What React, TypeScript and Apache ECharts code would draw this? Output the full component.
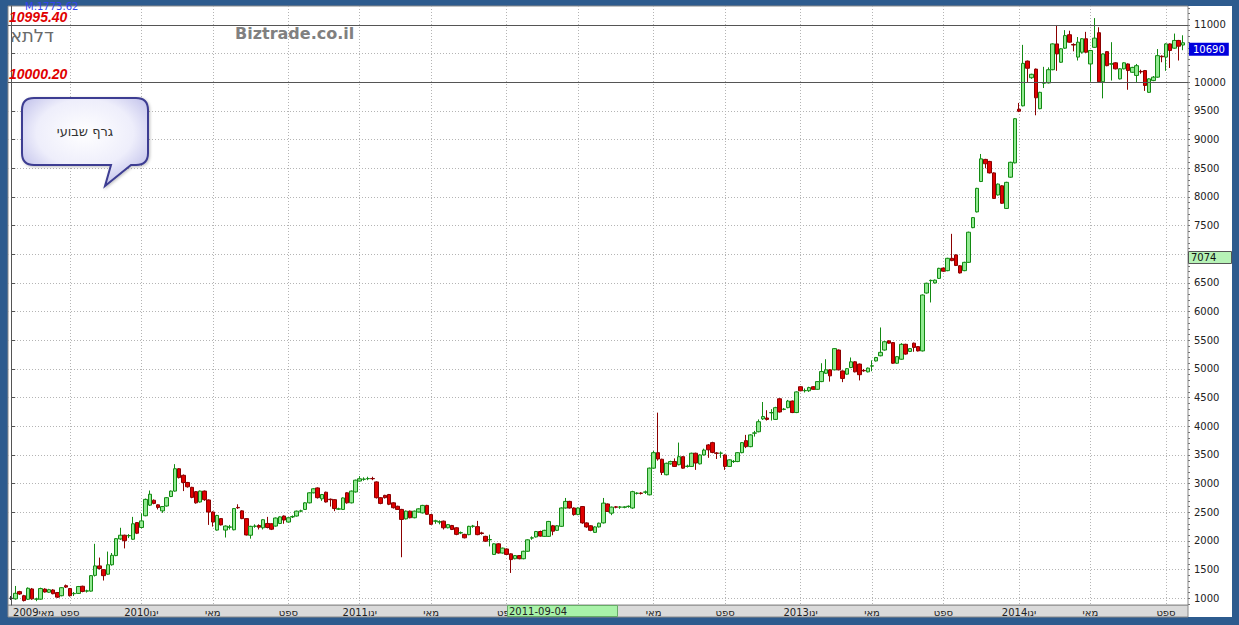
import React, { useEffect, useRef } from "react";
import * as echarts from "echarts";

// Weekly candles [open, close, low, high], first week 2009-05-31
const weeklyOHLC: number[][] = [
  [1000, 1000, 970, 1040], [990, 1087, 975, 1215], [1116, 1075, 1060, 1130], [1045, 960, 945, 1060],
  [983, 1175, 970, 1190], [1163, 990, 975, 1180], [985, 988, 950, 1010], [985, 1170, 975, 1185],
  [1160, 1110, 1100, 1175], [1105, 1150, 1095, 1165], [1145, 1080, 1070, 1160], [1100, 1020, 1005, 1110],
  [1045, 1185, 1035, 1195], [1220, 1195, 1180, 1240], [1170, 1045, 1030, 1180], [1080, 1085, 1040, 1110],
  [1085, 1205, 1075, 1215], [1210, 1120, 1105, 1220], [1125, 1130, 1100, 1150], [1125, 1395, 1115, 1405],
  [1400, 1565, 1380, 1950], [1565, 1520, 1500, 1710], [1500, 1395, 1310, 1510], [1420, 1585, 1410, 1815],
  [1585, 1750, 1570, 1790], [1745, 2040, 1735, 2050], [2035, 2100, 2020, 2230], [2100, 2005, 1870, 2110],
  [2090, 2095, 2050, 2120], [2030, 2300, 2020, 2420], [2320, 2135, 2120, 2330], [2235, 2350, 2220, 2480],
  [2440, 2725, 2430, 2740], [2625, 2815, 2610, 2880], [2710, 2655, 2640, 2725], [2630, 2585, 2550, 2640],
  [2525, 2600, 2490, 2610], [2610, 2755, 2600, 2765], [2775, 2870, 2765, 2880], [2870, 3260, 2860, 3340],
  [3260, 3105, 3090, 3270], [3145, 3020, 2870, 3160], [3020, 2945, 2930, 3030], [2935, 2760, 2745, 2945],
  [2860, 2665, 2650, 2870], [2680, 2870, 2670, 2880], [2870, 2720, 2700, 2880], [2715, 2505, 2280, 2725],
  [2505, 2330, 2250, 2515], [2190, 2445, 2180, 2455], [2390, 2280, 2270, 2400], [2190, 2260, 2060, 2270],
  [2240, 2245, 2200, 2280], [2195, 2565, 2185, 2575], [2585, 2578, 2560, 2640], [2525, 2390, 2380, 2535],
  [2390, 2105, 2095, 2400], [2100, 2255, 2040, 2265], [2255, 2260, 2230, 2290], [2270, 2240, 2200, 2290],
  [2230, 2370, 2200, 2380], [2305, 2235, 2220, 2420], [2300, 2205, 2190, 2310], [2260, 2400, 2250, 2410],
  [2305, 2420, 2295, 2430], [2435, 2365, 2300, 2445], [2330, 2405, 2320, 2415], [2420, 2425, 2400, 2445],
  [2435, 2520, 2425, 2530], [2520, 2525, 2500, 2545], [2550, 2665, 2540, 2675], [2665, 2840, 2655, 2850],
  [2840, 2910, 2830, 2920], [2925, 2755, 2740, 2935], [2735, 2810, 2700, 2820], [2850, 2680, 2670, 2860],
  [2728, 2720, 2600, 2740], [2720, 2565, 2520, 2730], [2555, 2560, 2540, 2580], [2550, 2750, 2540, 2760],
  [2840, 2665, 2650, 2850], [2665, 2870, 2655, 2880], [2855, 3060, 2845, 3070], [3045, 3085, 3035, 3130],
  [3075, 3080, 3050, 3110], [3085, 3090, 3060, 3120], [3090, 3085, 3060, 3120], [3030, 2755, 2740, 3040],
  [2755, 2655, 2640, 2765], [2795, 2755, 2740, 2805], [2810, 2640, 2625, 2820], [2665, 2580, 2565, 2675],
  [2605, 2550, 2540, 2615], [2550, 2375, 1716, 2560], [2385, 2520, 2375, 2530], [2520, 2405, 2395, 2530],
  [2405, 2520, 2395, 2530], [2505, 2560, 2495, 2570], [2490, 2620, 2480, 2630], [2620, 2465, 2455, 2630],
  [2460, 2290, 2280, 2470], [2345, 2350, 2300, 2370], [2330, 2335, 2290, 2360], [2345, 2230, 2200, 2355],
  [2230, 2285, 2220, 2295], [2270, 2200, 2190, 2280], [2230, 2115, 2100, 2240], [2140, 2145, 2120, 2165],
  [2115, 2055, 2045, 2125], [2110, 2255, 2100, 2265], [2255, 2260, 2230, 2280], [2250, 2110, 2100, 2350],
  [2140, 2130, 2110, 2160], [2080, 1995, 1985, 2090], [2020, 2025, 1905, 2110], [1765, 1950, 1755, 1960],
  [1950, 1790, 1780, 1960], [1790, 1875, 1780, 1885], [1860, 1765, 1755, 1870], [1775, 1675, 1442, 1785],
  [1690, 1745, 1680, 1755], [1745, 1690, 1680, 1755], [1690, 1820, 1680, 1830], [1820, 2020, 1810, 2030],
  [2050, 2055, 2020, 2080], [2070, 2165, 2060, 2175], [2165, 2085, 2075, 2180], [2080, 2185, 2070, 2195],
  [2080, 2340, 2070, 2350], [2265, 2170, 2100, 2280], [2185, 2265, 2175, 2275], [2255, 2575, 2245, 2585],
  [2575, 2690, 2565, 2750], [2690, 2575, 2565, 2700], [2575, 2460, 2440, 2585], [2460, 2575, 2450, 2585],
  [2600, 2315, 2300, 2610], [2315, 2245, 2230, 2325], [2265, 2185, 2170, 2275], [2150, 2245, 2140, 2255],
  [2245, 2310, 2235, 2320], [2315, 2660, 2305, 2750], [2645, 2515, 2505, 2655], [2485, 2590, 2450, 2600],
  [2595, 2588, 2570, 2610], [2590, 2592, 2560, 2610], [2588, 2592, 2570, 2605], [2600, 2605, 2580, 2620],
  [2575, 2860, 2560, 2875], [2830, 2835, 2810, 2850], [2835, 2830, 2810, 2850], [2850, 2855, 2820, 2880],
  [2805, 3270, 2795, 3280], [3270, 3540, 3260, 3570], [3540, 3430, 3400, 4238], [3425, 3195, 3150, 3435],
  [3155, 3355, 3145, 3365], [3345, 3385, 3330, 3400], [3385, 3300, 3290, 3440], [3330, 3470, 3320, 3716],
  [3470, 3270, 3260, 3480], [3300, 3305, 3280, 3330], [3300, 3530, 3290, 3540], [3530, 3360, 3240, 3540],
  [3345, 3500, 3335, 3510], [3500, 3585, 3490, 3610], [3675, 3590, 3450, 3690], [3715, 3545, 3530, 3730],
  [3535, 3528, 3430, 3550], [3530, 3532, 3450, 3560], [3500, 3300, 3240, 3510], [3300, 3415, 3290, 3425],
  [3385, 3388, 3360, 3410], [3385, 3540, 3375, 3550], [3540, 3715, 3530, 3725], [3750, 3645, 3620, 3850],
  [3645, 3850, 3635, 3860], [3880, 3885, 3820, 3920], [3905, 4080, 3895, 4120], [4130, 4170, 4110, 4424],
  [4145, 4120, 4100, 4280], [4235, 4240, 4100, 4300], [4120, 4325, 4110, 4340], [4480, 4250, 4240, 4490],
  [4295, 4300, 4280, 4320], [4325, 4440, 4315, 4460], [4440, 4240, 4230, 4450], [4240, 4600, 4230, 4610],
  [4690, 4620, 4610, 4700], [4620, 4625, 4590, 4660], [4620, 4675, 4600, 4690], [4690, 4645, 4640, 4700],
  [4645, 4780, 4635, 4790], [4780, 4955, 4770, 5100], [4925, 4985, 4915, 5170], [4985, 4880, 4780, 4995],
  [4985, 5355, 4975, 5365], [5330, 4985, 4975, 5340], [4965, 4835, 4770, 4975], [4910, 5005, 4900, 5015],
  [5025, 5125, 5015, 5200], [5125, 4950, 4940, 5135], [5085, 4900, 4800, 5095], [4975, 4968, 4950, 5000],
  [4950, 5015, 4940, 5025], [5050, 5055, 4960, 5150], [5140, 5200, 5130, 5210], [5230, 5290, 5220, 5724],
  [5330, 5475, 5320, 5490], [5490, 5450, 5440, 5500], [5460, 5100, 5090, 5470], [5100, 5215, 5090, 5225],
  [5170, 5430, 5160, 5450], [5430, 5260, 5250, 5440], [5305, 5355, 5295, 5365], [5450, 5375, 5300, 5460],
  [5390, 5315, 5305, 5400], [5315, 6290, 5305, 6300], [6325, 6495, 6315, 6505], [6540, 6545, 6160, 6560],
  [6500, 6550, 6490, 6560], [6580, 6755, 6570, 6765], [6760, 6705, 6695, 6770], [6715, 6930, 6705, 6940],
  [6930, 6890, 6880, 7357], [6990, 6805, 6795, 7000], [6800, 6675, 6665, 6810], [6715, 6860, 6705, 6870],
  [6860, 7385, 6850, 7395], [7465, 7640, 7455, 7650], [7740, 8150, 7730, 8160], [8270, 8665, 8260, 8750],
  [8655, 8580, 8500, 8665], [8620, 8420, 8410, 8630], [8420, 7975, 7965, 8430], [8035, 8225, 8025, 8235],
  [8195, 7890, 7880, 8205], [7800, 8255, 7790, 8265], [8345, 8605, 8335, 8615], [8595, 9365, 8585, 9375],
  [9530, 9495, 9480, 9640], [9590, 10330, 9580, 10653], [10370, 10245, 10000, 10380], [10080, 10140, 10060, 10150],
  [10230, 9730, 9425, 10240], [9540, 9825, 9530, 9835], [9985, 9990, 9900, 10270], [9990, 10220, 9980, 10260],
  [10220, 10670, 10210, 10680], [10670, 10495, 10200, 11000], [10350, 10585, 10340, 10595], [10595, 10815, 10585, 10910],
  [10830, 10700, 10690, 10900], [10660, 10650, 10540, 10680], [10440, 10700, 10380, 10790], [10525, 10760, 10500, 10770],
  [10760, 10525, 10515, 10880], [10320, 10555, 10010, 10565], [10610, 10770, 10600, 11120], [10865, 10010, 10000, 10960],
  [10010, 10495, 9720, 10505], [10535, 10290, 10280, 10545], [10315, 10325, 10030, 10700], [10340, 10235, 10225, 10350],
  [10060, 10235, 10050, 10245], [10235, 10340, 10225, 10350], [10320, 10205, 9870, 10330], [10175, 10260, 10165, 10270],
  [10120, 10290, 10000, 10320], [10190, 10182, 10150, 10220], [10205, 9945, 9850, 10215], [9825, 10060, 9815, 10070],
  [10030, 10090, 10020, 10110], [10090, 10465, 10080, 10580], [10455, 10445, 10350, 10470], [10440, 10670, 10200, 10680],
  [10670, 10555, 10250, 10680], [10595, 10730, 10585, 10850], [10730, 10630, 10380, 10740], [10650, 10690, 10560, 10820],
];

// first week of Jan / May / Sep (week index from 2009-05-31) -> vertical grid lines
const monthTickIndex = [14, 31, 48, 66, 83, 100, 118, 135, 153, 170, 188, 205, 222, 240, 257, 275];
// labels shown in the strip (Jan 2012 is hidden under the date cursor box in the reference)
const monthLabelIndex = [14, 31, 48, 66, 83, 100, 118, 153, 170, 188, 205, 222, 240, 257, 275];
const monthLabelText = [
  "ספט", "2010ינו", "מאי", "ספט", "2011ינו", "מאי", "ספט",
  "מאי", "ספט", "2013ינו", "מאי", "ספט", "2014ינו", "מאי", "ספט",
];
const firstWeekLabel = "2009מאי";

// grid lines / ticks every 500; labels hidden where the reference covers them with price boxes
const priceTicks = [1000, 1500, 2000, 2500, 3000, 3500, 4000, 4500, 5000, 5500, 6000, 6500, 7000, 7500, 8000, 8500, 9000, 9500, 10000, 10500, 11000];
const priceLabels = [1000, 1500, 2000, 2500, 3000, 3500, 4000, 4500, 5000, 5500, 6000, 6500, 7500, 8000, 8500, 9000, 9500, 10000, 11000];
const minorPriceTicks: number[] = [];
for (let v = 900; v <= 11300; v += 100) minorPriceTicks.push(v);

const upperLevel = 10995.4;
const lowerLevel = 10000.2;
const lastClose = 10690;
const cursorPriceText = "7074";
const cursorDateText = "2011-09-04";
const maText = "M:1773.62";
const stockName = "דלתא";
const siteName = "Biztrade.co.il";
const calloutText = "גרף שבועי";

const X_MIN = -0.76;
const X_MAX = 280.24;
const Y_MIN = 883;
const Y_MAX = 11331;

const CALLOUT_PATH =
  "M34 98 L136 98 Q148 98 148 110 L148 153 Q148 165 136 165 L131 165 L105 186 L111 165 L34 165 Q22 165 22 153 L22 110 Q22 98 34 98 Z";
let shapeRegistered = false;
function ensureShape() {
  if (!shapeRegistered) {
    echarts.graphic.registerShape("callout", echarts.graphic.extendPath(CALLOUT_PATH, {}) as any);
    shapeRegistered = true;
  }
}

const FONT = "DejaVu Sans";

export default function App() {
  const ref = useRef<HTMLDivElement>(null);
  useEffect(() => {
    document.body.style.margin = "0";
    ensureShape();
    const chart = echarts.init(ref.current!, undefined, { renderer: "svg" });
    const labelMap: Record<number, string> = { 0: firstWeekLabel };
    monthLabelIndex.forEach((v, i) => (labelMap[v] = monthLabelText[i]));

    const levelLabel = (txt: string) => ({
      show: true,
      position: "insideStartTop",
      formatter: txt,
      color: "#e00000",
      fontStyle: "italic",
      fontWeight: "bold",
      fontSize: 14,
      fontFamily: "Liberation Sans",
      distance: 1,
    });

    const option: any = {
      animation: false,
      backgroundColor: "#2d5b8e",
      grid: {
        left: 8, right: 51, top: 6, bottom: 20,
        show: true, backgroundColor: "#ffffff", borderColor: "#8a8a8a", borderWidth: 1,
      },
      xAxis: {
        type: "value", min: X_MIN, max: X_MAX,
        axisLine: { show: false },
        axisTick: { show: false, customValues: monthTickIndex },
        axisLabel: {
          customValues: [0, ...monthLabelIndex],
          margin: 2, fontSize: 10, fontFamily: FONT, color: "#222",
          formatter: (v: number) => {
            const k = Math.round(v);
            if (k === 0) return "{first|" + firstWeekLabel + "}";
            return labelMap[k] ?? "";
          },
          rich: { first: { padding: [0, 0, 0, 45], fontSize: 10, fontFamily: FONT, color: "#222" } },
        },
        splitLine: { show: true, lineStyle: { color: "#b4b4b4", type: [1, 2], width: 1 } },
      },
      yAxis: [
        {
          type: "value", position: "right", min: Y_MIN, max: Y_MAX,
          axisLine: { show: true, lineStyle: { color: "#555" } },
          axisTick: { show: true, length: 4, customValues: priceTicks, lineStyle: { color: "#555" } },
          axisLabel: {
            customValues: priceLabels, color: "#222", fontSize: 10, fontFamily: FONT, margin: 6,
            formatter: (v: number) => String(Math.round(v)),
          },
          splitLine: { show: true, lineStyle: { color: "#b4b4b4", type: [1, 2], width: 1 } },
        },
        {
          type: "value", position: "right", min: Y_MIN, max: Y_MAX,
          axisLine: { show: false },
          axisTick: { show: true, length: 2, customValues: minorPriceTicks, lineStyle: { color: "#777" } },
          axisLabel: { show: false },
          splitLine: { show: false },
        },
      ],
      series: [
        {
          type: "candlestick",
          yAxisIndex: 0,
          data: weeklyOHLC.map((d, i) => [i, d[0], d[1], d[2], d[3]]),
          encode: { x: 0, y: [1, 2, 3, 4] },
          barWidth: 4,
          clip: false,
          itemStyle: {
            color: "#92ea92", color0: "#e00000",
            borderColor: "#128a12", borderColor0: "#8b0000",
            borderColorDoji: "#333333", borderWidth: 1,
          },
          markLine: {
            symbol: "none", silent: true, animation: false,
            data: [
              { yAxis: upperLevel, lineStyle: { color: "#555", width: 1, type: "solid" }, label: levelLabel(upperLevel.toFixed(2)) },
              { yAxis: lowerLevel, lineStyle: { color: "#555", width: 1, type: "solid" }, label: levelLabel(lowerLevel.toFixed(2)) },
              {
                yAxis: lastClose, lineStyle: { color: "rgba(0,0,0,0)", width: 0, type: "solid" },
                label: {
                  show: true, position: "end", formatter: String(lastClose), distance: 1,
                  color: "#ffffff", backgroundColor: "#0000dd", padding: [2, 4, 1, 4],
                  fontSize: 10, fontFamily: FONT, verticalAlign: "top",
                },
              },
            ],
          },
        },
      ],
      graphic: [
        { type: "rect", z: -1, silent: true, shape: { x: 1188, y: 6, width: 44, height: 611 }, style: { fill: "#ffffff" } },
        { type: "rect", z: -1, silent: true, shape: { x: 8, y: 605, width: 1180, height: 12 }, style: { fill: "#dadada", stroke: "#8a8a8a", lineWidth: 1 } },
        { type: "text", z: 10, x: 25, y: 1, style: { text: maText, fill: "#3344ee", fontSize: 10, fontFamily: FONT } },
        { type: "text", z: 10, x: 10, y: 26, style: { text: stockName, fill: "#6a6a6a", fontSize: 18, fontFamily: FONT } },
        { type: "text", z: 10, x: 235, y: 25, style: { text: siteName, fill: "#808080", fontSize: 16, fontWeight: "bold", fontFamily: FONT } },
        {
          type: "callout", z: 10, x: 0, y: 0,
          style: {
            fill: new echarts.graphic.RadialGradient(0.5, 0.4, 0.7, [
              { offset: 0, color: "#ffffff" },
              { offset: 0.55, color: "#eeeefb" },
              { offset: 1, color: "#b4b4e6" },
            ]),
            stroke: "#3d3d92", lineWidth: 2,
            shadowBlur: 3, shadowColor: "rgba(0,0,0,0.25)", shadowOffsetX: 1, shadowOffsetY: 1,
          },
        },
        { type: "text", z: 11, x: 85, y: 131, style: { text: calloutText, fill: "#333333", fontSize: 13, fontFamily: FONT, align: "center", verticalAlign: "middle" } },
        { type: "rect", z: 10, shape: { x: 1188.5, y: 251.5, width: 43, height: 12 }, style: { fill: "#b6f2b6", stroke: "#555", lineWidth: 1 } },
        { type: "text", z: 11, x: 1191, y: 257.5, style: { text: cursorPriceText, fill: "#111", fontSize: 10, fontFamily: FONT, verticalAlign: "middle" } },
        { type: "rect", z: 10, shape: { x: 507.5, y: 605.5, width: 110, height: 11 }, style: { fill: "#a9f2a9", stroke: "#6a6", lineWidth: 1 } },
        { type: "text", z: 11, x: 509, y: 611, style: { text: cursorDateText, fill: "#222", fontSize: 10, fontFamily: FONT, verticalAlign: "middle" } },
      ],
    };
    chart.setOption(option);
    return () => chart.dispose();
  }, []);
  return <div ref={ref} style={{ position: "fixed", left: 0, top: 0, width: 1239, height: 625 }} />;
}
